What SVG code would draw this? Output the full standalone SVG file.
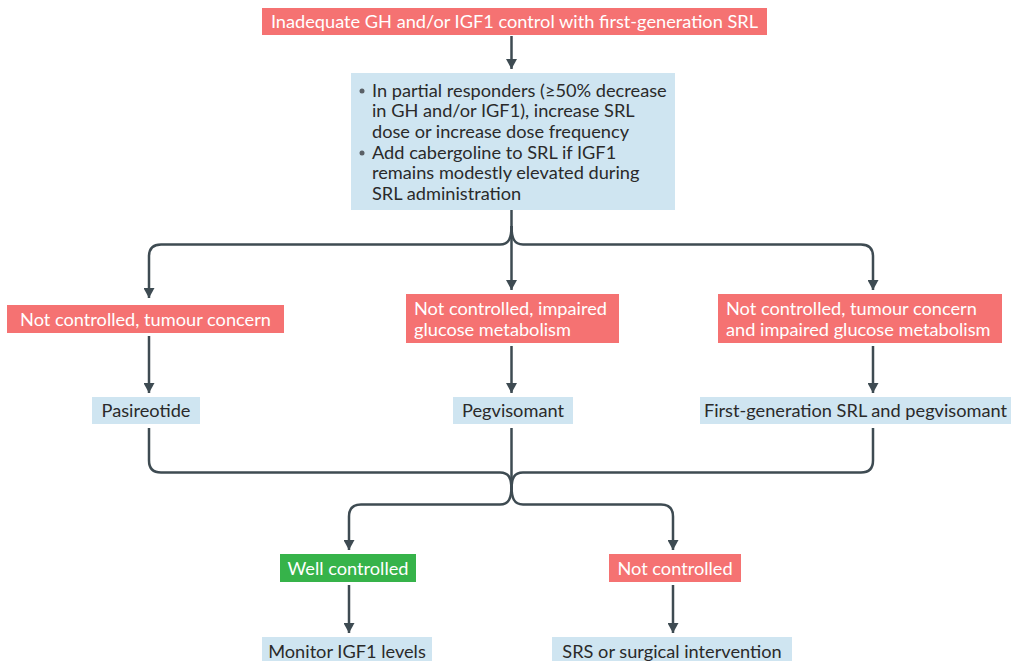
<svg xmlns="http://www.w3.org/2000/svg" width="1014" height="661" viewBox="0 0 1014 661">
<defs>
<style>
.red{fill:#F57272;}
.blue{fill:#CFE5F1;}
.green{fill:#36B34A;}
.tw{font-family:Lato,"Open Sans","Liberation Sans",sans-serif;font-size:18.2px;fill:#ffffff;}
.td{font-family:Lato,"Open Sans","Liberation Sans",sans-serif;font-size:18.2px;fill:#2a2a2a;}
.c{text-anchor:middle;}
.ln{fill:none;stroke:#3E4B52;stroke-width:2.5;}
</style>
<marker id="ah" markerUnits="userSpaceOnUse" markerWidth="10" markerHeight="11" refX="10" refY="5.5" orient="auto">
<path d="M0,0 L10,5.5 L0,11 z" fill="#3E4B52"/>
</marker>
</defs>
<rect width="1014" height="661" fill="#ffffff"/>

<g id="connectors">
<path class="ln" d="M511.5,36 V69" marker-end="url(#ah)"/>
<path class="ln" d="M511.5,210 V290" marker-end="url(#ah)"/>
<path class="ln" d="M511.5,226 C511.5,238 509,244.5 500,244.5 H161 Q149,244.5 149,256.5 V298" marker-end="url(#ah)"/>
<path class="ln" d="M511.5,226 C511.5,238 514,244.5 523,244.5 H861 Q873,244.5 873,256.5 V290" marker-end="url(#ah)"/>
<path class="ln" d="M149,336 V393" marker-end="url(#ah)"/>
<path class="ln" d="M511.5,346 V393" marker-end="url(#ah)"/>
<path class="ln" d="M873,346 V393" marker-end="url(#ah)"/>
<path class="ln" d="M149,428 V460.5 Q149,472.5 161,472.5 H500 C509,472.5 511.5,478 511.5,490"/>
<path class="ln" d="M873,428 V460.5 Q873,472.5 861,472.5 H523 C514,472.5 511.5,478 511.5,490"/>
<path class="ln" d="M511.5,428 V490"/>
<path class="ln" d="M511.5,486 C511.5,498 509,504.5 500,504.5 H361 Q349,504.5 349,516.5 V550" marker-end="url(#ah)"/>
<path class="ln" d="M511.5,486 C511.5,498 514,504.5 523,504.5 H661 Q673,504.5 673,516.5 V550" marker-end="url(#ah)"/>
<path class="ln" d="M349,585 V633" marker-end="url(#ah)"/>
<path class="ln" d="M673,585 V633" marker-end="url(#ah)"/>
</g>

<g id="n-start">
<rect class="red" x="262" y="8" width="505" height="27"/>
<text class="tw c" x="514.5" y="27.5">Inadequate GH and/or IGF1 control with first-generation SRL</text>
</g>

<g id="n-partial">
<rect class="blue" x="351" y="73" width="324" height="137"/>
<circle cx="362" cy="91" r="2.5" fill="#5a6066"/>
<circle cx="362" cy="153" r="2.5" fill="#5a6066"/>
<text class="td" x="372">
<tspan x="372" y="96.5">In partial responders (≥50% decrease</tspan>
<tspan x="372" y="117">in GH and/or IGF1), increase SRL</tspan>
<tspan x="372" y="137.5">dose or increase dose frequency</tspan>
<tspan x="372" y="158.5">Add cabergoline to SRL if IGF1</tspan>
<tspan x="372" y="179">remains modestly elevated during</tspan>
<tspan x="372" y="199.5">SRL administration</tspan>
</text>
</g>

<g id="n-tumour">
<rect class="red" x="7" y="305" width="277" height="28"/>
<text class="tw c" x="145.5" y="325.5">Not controlled, tumour concern</text>
</g>

<g id="n-glucose">
<rect class="red" x="406" y="294" width="213" height="49"/>
<text class="tw"><tspan x="414" y="314.5">Not controlled, impaired</tspan><tspan x="414" y="335.5">glucose metabolism</tspan></text>
</g>

<g id="n-both">
<rect class="red" x="718" y="294" width="284" height="49"/>
<text class="tw"><tspan x="726" y="314.5">Not controlled, tumour concern</tspan><tspan x="726" y="335.5">and impaired glucose metabolism</tspan></text>
</g>

<g id="n-pasireotide">
<rect class="blue" x="92" y="397" width="108" height="27"/>
<text class="td c" x="146" y="416.5">Pasireotide</text>
</g>

<g id="n-pegvisomant">
<rect class="blue" x="453" y="397" width="120" height="27"/>
<text class="td c" x="513" y="416.5">Pegvisomant</text>
</g>

<g id="n-combo">
<rect class="blue" x="700" y="397" width="311" height="27"/>
<text class="td c" x="855.5" y="416.5">First-generation SRL and pegvisomant</text>
</g>

<g id="n-well">
<rect class="green" x="280" y="554" width="136" height="28"/>
<text class="tw c" x="348" y="574.5">Well controlled</text>
</g>

<g id="n-notctrl">
<rect class="red" x="609" y="554" width="132" height="28"/>
<text class="tw c" x="675" y="574.5">Not controlled</text>
</g>

<g id="n-monitor">
<rect class="blue" x="262" y="637" width="170" height="30"/>
<text class="td c" x="347" y="657.5">Monitor IGF1 levels</text>
</g>

<g id="n-srs">
<rect class="blue" x="552" y="637" width="240" height="30"/>
<text class="td c" x="672" y="657.5">SRS or surgical intervention</text>
</g>
</svg>
